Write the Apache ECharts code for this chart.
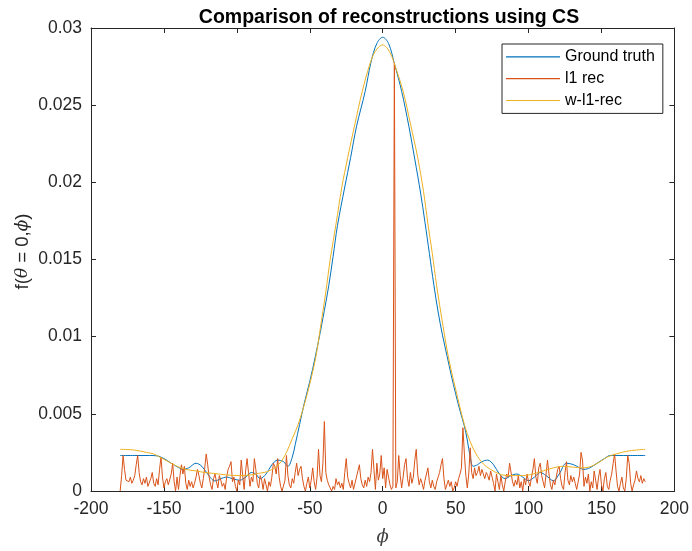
<!DOCTYPE html>
<html>
<head>
<meta charset="utf-8">
<title>Comparison of reconstructions using CS</title>
<script src="https://cdn.jsdelivr.net/npm/echarts@6/dist/echarts.min.js"></script>
<style>
  html, body { margin: 0; padding: 0; background: #ffffff; }
  #chart { width: 692px; height: 551px; }
</style>
</head>
<body>
<div id="chart"></div>
<script>
// Angle ticks and value ticks
const xTicks = [-200, -150, -100, -50, 0, 50, 100, 150, 200];
const yTicks = [0, 0.005, 0.01, 0.015, 0.02, 0.025, 0.03];

// Ground truth profile f(theta=0, phi)
const gtPhi = [-180, -170, -160, -155, -150, -145, -140, -137, -133, -128, -124, -120, -115, -111, -107, -103,
  -98, -94, -90, -87, -84, -80, -76, -72, -68, -65, -62, -60, -57, -54, -50, -46, -43, -40, -37, -34,
  -31, -26, -22, -18, -12, -8, -4, 0, 4, 8, 13, 18, 22, 26, 29, 32, 35, 38, 41, 44, 47, 50, 53, 56,
  58, 60, 62, 65, 68, 72, 76, 80, 84, 88, 92, 96, 100, 104, 108, 112, 117, 121, 126, 131, 135, 138,
  142, 147, 152, 156, 160, 170, 180];
const gtVal = [0.0023, 0.0023, 0.0023, 0.00228, 0.0021, 0.0018, 0.00152, 0.0014, 0.0015, 0.0018, 0.0016,
  0.0011, 0.00065, 0.0008, 0.0009, 0.0008, 0.0007, 0.0009, 0.0012, 0.0011, 0.0008, 0.0011, 0.0017,
  0.002, 0.0019, 0.0016, 0.0022, 0.003, 0.0043, 0.0056, 0.0071, 0.0088, 0.0102, 0.0117, 0.0133,
  0.0152, 0.0172, 0.0197, 0.0216, 0.0236, 0.0259, 0.0278, 0.029, 0.0294, 0.029, 0.0277, 0.0259,
  0.0236, 0.0215, 0.0193, 0.0174, 0.0154, 0.0134, 0.0116, 0.0101, 0.0088, 0.0075, 0.0063, 0.0052,
  0.0042, 0.0033, 0.0022, 0.0016, 0.0017, 0.0019, 0.002, 0.0017, 0.0011, 0.0008, 0.001, 0.0011,
  0.0009, 0.00067, 0.0009, 0.0012, 0.001, 0.00067, 0.0011, 0.0018, 0.0017, 0.0015, 0.0014, 0.0015,
  0.0018, 0.0021, 0.0023, 0.0023, 0.0023, 0.0023];

// Plain l1 reconstruction, one sample per degree from -180 to 180
const l1Start = -180;
const l1Val = [
  0.0000, 0.0010, 0.0023, 0.0014, 0.0007, 0.0008, 0.0006, 0.0009, 0.0005, 0.0007,
  0.0010, 0.0017, 0.0023, 0.0012, 0.0006, 0.0004, 0.0008, 0.0005, 0.0009, 0.0003,
  0.0002, 0.0008, 0.0012, 0.0005, 0.0003, 0.0008, 0.0004, 0.0014, 0.0022, 0.0009,
  0.0002, 0.0006, 0.0008, 0.0004, 0.0003, 0.0011, 0.0018, 0.0006, 0.0000, 0.0009,
  0.0001, 0.0010, 0.0017, 0.0011, 0.0016, 0.0005, 0.0001, 0.0007, 0.0003, 0.0006,
  0.0002, 0.0005, 0.0009, 0.0014, 0.0010, 0.0005, 0.0002, 0.0008, 0.0015, 0.0024,
  0.0017, 0.0009, 0.0004, 0.0001, 0.0008, 0.0011, 0.0006, 0.0002, 0.0010, 0.0007,
  0.0003, 0.0005, 0.0001, 0.0009, 0.0014, 0.0016, 0.0019, 0.0006, 0.0009, 0.0003,
  0.0000, 0.0007, 0.0004, 0.0020, 0.0010, 0.0001, 0.0013, 0.0021, 0.0012, 0.0003,
  0.0009, 0.0006, 0.0021, 0.0014, 0.0005, 0.0002, 0.0010, 0.0007, 0.0001, 0.0008,
  0.0004, 0.0000, 0.0006, 0.0003, 0.0009, 0.0018, 0.0016, 0.0011, 0.0021, 0.0009,
  0.0003, 0.0000, 0.0001, 0.0007, 0.0023, 0.0010, 0.0004, 0.0002, 0.0008, 0.0005,
  0.0012, 0.0018, 0.0010, 0.0014, 0.0016, 0.0008, 0.0003, 0.0000, 0.0005, 0.0009,
  0.0002, 0.0007, 0.0015, 0.0006, 0.0001, 0.0009, 0.0027, 0.0010, 0.0006, 0.0018,
  0.0045, 0.0012, 0.0007, 0.0004, 0.0002, 0.0000, 0.0003, 0.0001, 0.0008, 0.0004,
  0.0006, 0.0002, 0.0005, 0.0001, 0.0012, 0.0021, 0.0009, 0.0005, 0.0002, 0.0007,
  0.0001, 0.0005, 0.0009, 0.0013, 0.0017, 0.0008, 0.0004, 0.0002, 0.0007, 0.0003,
  0.0009, 0.0006, 0.0012, 0.0027, 0.0014, 0.0001, 0.0018, 0.0007, 0.0011, 0.0023,
  0.0008, 0.0015, 0.0002, 0.0014, 0.0009, 0.0004, 0.0001, 0.0003, 0.0277, 0.0002,
  0.0006, 0.0023, 0.0010, 0.0002, 0.0009, 0.0017, 0.0021, 0.0008, 0.0003, 0.0012,
  0.0005, 0.0009, 0.0020, 0.0027, 0.0011, 0.0004, 0.0008, 0.0005, 0.0001, 0.0007,
  0.0011, 0.0015, 0.0006, 0.0002, 0.0007, 0.0003, 0.0001, 0.0006, 0.0009, 0.0012,
  0.0017, 0.0021, 0.0008, 0.0001, 0.0004, 0.0007, 0.0003, 0.0006, 0.0000, 0.0002,
  0.0006, 0.0003, 0.0008, 0.0011, 0.0015, 0.0041, 0.0024, 0.0010, 0.0002, 0.0011,
  0.0028, 0.0012, 0.0008, 0.0015, 0.0010, 0.0012, 0.0016, 0.0010, 0.0014, 0.0011,
  0.0008, 0.0012, 0.0010, 0.0007, 0.0013, 0.0009, 0.0005, 0.0000, 0.0011, 0.0006,
  0.0001, 0.0010, 0.0004, 0.0000, 0.0006, 0.0011, 0.0009, 0.0018, 0.0017, 0.0006,
  0.0003, 0.0007, 0.0004, 0.0010, 0.0002, 0.0006, 0.0000, 0.0008, 0.0004, 0.0011,
  0.0006, 0.0003, 0.0009, 0.0014, 0.0021, 0.0009, 0.0005, 0.0015, 0.0018, 0.0010,
  0.0006, 0.0002, 0.0011, 0.0020, 0.0011, 0.0004, 0.0001, 0.0007, 0.0004, 0.0009,
  0.0014, 0.0016, 0.0008, 0.0003, 0.0001, 0.0012, 0.0019, 0.0007, 0.0004, 0.0010,
  0.0006, 0.0009, 0.0005, 0.0001, 0.0000, 0.0011, 0.0025, 0.0020, 0.0003, 0.0009,
  0.0005, 0.0011, 0.0000, 0.0006, 0.0002, 0.0013, 0.0007, 0.0001, 0.0009, 0.0014,
  0.0004, 0.0000, 0.0008, 0.0012, 0.0003, 0.0001, 0.0007, 0.0011, 0.0018, 0.0024,
  0.0013, 0.0003, 0.0000, 0.0005, 0.0009, 0.0002, 0.0000, 0.0008, 0.0023, 0.0018,
  0.0005, 0.0000, 0.0004, 0.0007, 0.0013, 0.0008, 0.0006, 0.0010, 0.0005, 0.0008,
  0.0006
];

// Weighted l1 reconstruction
const wPhi = [-180, -170, -162, -157, -153, -147, -141, -135, -128, -122, -116, -108, -98, -90, -85, -78,
  -71, -66, -62, -58, -52, -46, -43, -39, -36, -32, -28, -24, -19, -14, -9, -5, 0, 5, 9, 14, 19, 24,
  28, 31, 34, 37, 41, 45, 50, 56, 60, 64, 69, 74, 80, 86, 96, 103, 110, 117, 124, 130, 137, 143, 149,
  154, 160, 169, 180];
const wVal = [0.0027, 0.00265, 0.0025, 0.0024, 0.0022, 0.0019, 0.0016, 0.0014, 0.0013, 0.0012, 0.00114,
  0.00105, 0.001, 0.00105, 0.00114, 0.0013, 0.00175, 0.0025, 0.0034, 0.0043, 0.0062, 0.0086, 0.0104,
  0.0129, 0.015, 0.0173, 0.0197, 0.0216, 0.0238, 0.0259, 0.0276, 0.0285, 0.0289, 0.0284, 0.0274,
  0.0259, 0.0238, 0.0216, 0.0194, 0.0173, 0.0154, 0.0133, 0.0109, 0.0087, 0.0066, 0.0043, 0.0032,
  0.0024, 0.00175, 0.0014, 0.0011, 0.001, 0.001, 0.0011, 0.0013, 0.0015, 0.0016, 0.00155, 0.0015,
  0.0016, 0.0019, 0.0022, 0.0024, 0.0026, 0.0027];

const pairs = (xs, ys) => xs.map((x, i) => [x, ys[i]]);
const l1Data = l1Val.map((v, i) => [l1Start + i, v]);

const FONT = "'Liberation Sans', Arial, Helvetica, sans-serif";
const AXIS_COLOR = '#262626';
const C_GT = '#0072BD', C_L1 = '#D95319', C_W = '#EDB120';

const chart = echarts.init(document.getElementById('chart'), null, { renderer: 'canvas' });

const boxAxis = {
  axisLine: { show: true, onZero: false, lineStyle: { color: AXIS_COLOR, width: 1 } },
  axisTick: { show: true, inside: true, length: 5, lineStyle: { color: AXIS_COLOR } },
  splitLine: { show: false }
};

chart.setOption({
  animation: false,
  backgroundColor: '#ffffff',
  title: {
    text: 'Comparison of reconstructions using CS',
    left: 384, top: 3, textAlign: 'center',
    textStyle: { fontFamily: FONT, fontSize: 19.5, fontWeight: 'bold', color: '#000000' }
  },
  grid: { left: 91, right: 15, top: 28, bottom: 59, containLabel: false },
  legend: {
    orient: 'vertical',
    left: 502, top: 44,
    padding: [2, 8, 2, 4],
    icon: 'rect',
    itemWidth: 54, itemHeight: 1.2, itemGap: 0,
    borderColor: AXIS_COLOR, borderWidth: 1, backgroundColor: '#ffffff',
    textStyle: { fontFamily: FONT, fontSize: 16, color: '#000000', lineHeight: 21.8 },
    data: [
      { name: 'Ground truth', itemStyle: { color: C_GT } },
      { name: 'l1 rec', itemStyle: { color: C_L1 } },
      { name: 'w-l1-rec', itemStyle: { color: C_W } }
    ]
  },
  xAxis: [
    Object.assign({
      type: 'value', min: -200, max: 200, interval: 50, position: 'bottom',
      name: 'ϕ', nameLocation: 'middle', nameGap: 37, nameMoveOverlap: false,
      nameTextStyle: { fontFamily: 'DejaVu Serif, serif', fontStyle: 'italic', fontSize: 18, color: '#404040' },
      axisLabel: { fontFamily: FONT, fontSize: 17.5, color: AXIS_COLOR, margin: 9,
        formatter: v => xTicks.includes(v) ? String(v) : '' }
    }, boxAxis),
    Object.assign({
      type: 'value', min: -200, max: 200, interval: 50, position: 'top',
      axisLabel: { show: false }
    }, boxAxis)
  ],
  yAxis: [
    Object.assign({
      type: 'value', min: 0, max: 0.03, interval: 0.005, position: 'left',
      name: '{n|f(}{i|θ}{n| = 0,}{i|ϕ}{n|)}', nameLocation: 'middle', nameGap: 59, nameRotate: 90,
      nameMoveOverlap: false,
      nameTextStyle: {
        padding: [0, 0, 0, 16],
        rich: {
          n: { fontFamily: FONT, fontSize: 18.5, color: AXIS_COLOR },
          i: { fontFamily: 'DejaVu Serif, serif', fontStyle: 'italic', fontSize: 17, color: AXIS_COLOR }
        }
      },
      axisLabel: { fontFamily: FONT, fontSize: 17.5, color: AXIS_COLOR, margin: 9,
        formatter: v => {
          const t = yTicks.find(y => Math.abs(y - v) < 1e-9);
          return t === undefined ? '' : String(t);
        } }
    }, boxAxis),
    Object.assign({
      type: 'value', min: 0, max: 0.03, interval: 0.005, position: 'right',
      axisLabel: { show: false }
    }, boxAxis)
  ],
  series: [
    {
      name: 'Ground truth', type: 'line', xAxisIndex: 0, yAxisIndex: 0,
      data: pairs(gtPhi, gtVal), smooth: 0.35, symbol: 'none',
      lineStyle: { color: C_GT, width: 1 }, itemStyle: { color: C_GT }, z: 3
    },
    {
      name: 'l1 rec', type: 'line', xAxisIndex: 0, yAxisIndex: 0,
      data: l1Data, symbol: 'none',
      lineStyle: { color: C_L1, width: 1 }, itemStyle: { color: C_L1 }, z: 4
    },
    {
      name: 'w-l1-rec', type: 'line', xAxisIndex: 0, yAxisIndex: 0,
      data: pairs(wPhi, wVal), smooth: 0.35, symbol: 'none',
      lineStyle: { color: C_W, width: 1 }, itemStyle: { color: C_W }, z: 5
    }
  ]
});
</script>
</body>
</html>
